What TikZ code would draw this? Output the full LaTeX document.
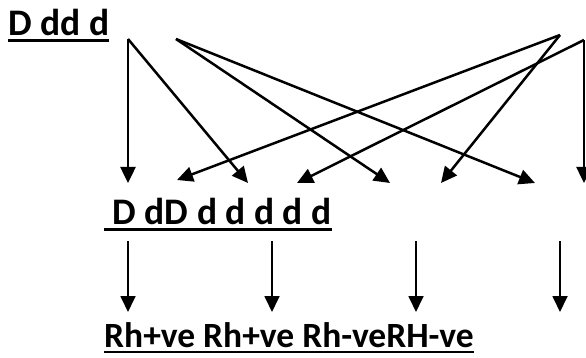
\documentclass[tikz,border=0pt]{standalone}
\usepackage{fontspec}
\setmainfont{Carlito}
\usetikzlibrary{arrows.meta}
\begin{document}
\begin{tikzpicture}[x=1pt,y=-1pt,
  lbl/.style={inner sep=0pt, anchor=base west, font=\fontsize{37.5}{42}\selectfont\bfseries},
  lbls/.style={inner sep=0pt, anchor=base west, font=\fontsize{35.5}{40}\selectfont\bfseries},
  arr/.style={line width=2.5pt, -{Triangle[length=16pt,width=15pt]}},
  arrb/.style={line width=1.8pt, -{Triangle[length=16pt,width=15pt]}},
  ul/.style={line width=3pt}]
\useasboundingbox (0,0) rectangle (586,358);
% texts
\node[lbl] (t1) at (8,36) {D dd d};
\node[lbl] (t2) at (104,224) {\ D dD d d d d d};
\node[lbls] (t3) at (104,347) {Rh+ve Rh+ve Rh-veRH-ve};
\draw[ul] ([yshift=-5pt]t1.base west) -- ([yshift=-5pt]t1.base east);
\draw[ul] ([yshift=-5pt]t2.base west) -- ([yshift=-5pt]t2.base east);
\draw[line width=2pt] ([yshift=-5pt]t3.base west) -- ([yshift=-5pt]t3.base east);
% sources
\coordinate (A) at (128,39);
\coordinate (B) at (176,39);
\coordinate (C) at (560,35);
\coordinate (D) at (584,40);
% targets
\coordinate (a1) at (128,183);
\coordinate (c1) at (177,180);
\coordinate (a2) at (248,183);
\coordinate (d1) at (297,183);
\coordinate (b1) at (390,183);
\coordinate (c2) at (441,183);
\coordinate (b2) at (535,183);
\coordinate (d2) at (584,183);
\draw[arr] (A) -- (a1);
\draw[arr] (A) -- (a2);
\draw[arr] (B) -- (b1);
\draw[arr] (B) -- (b2);
\draw[arr] (C) -- (c1);
\draw[arr] (C) -- (c2);
\draw[arr] (D) -- (d1);
\draw[arr] (D) -- (d2);
% second row
\foreach \i/\x in {1/128,2/272,3/416,4/560}{
  \coordinate (s\i) at (\x,241);
  \coordinate (e\i) at (\x,312);
  \draw[arrb] (s\i) -- (e\i);
}
\end{tikzpicture}
\end{document}
